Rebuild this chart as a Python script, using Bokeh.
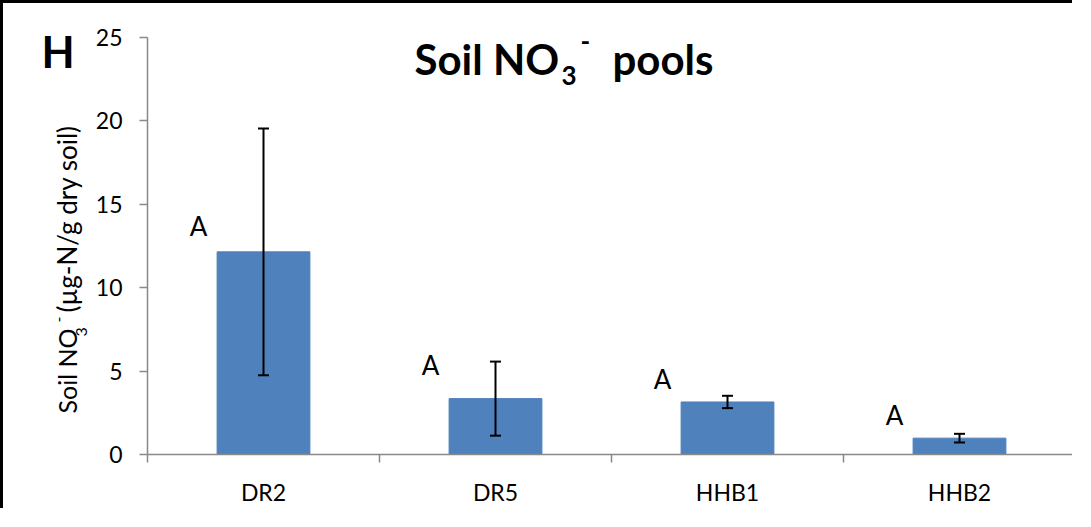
import math
from bokeh.plotting import figure
from bokeh.models import (ColumnDataSource, Range1d, LinearAxis, FixedTicker,
                          Whisker, TeeHead, Label)
from bokeh.core.properties import value
from bokeh.embed import file_html
from bokeh.resources import INLINE

# ---- data ----
categories = ["DR2", "DR5", "HHB1", "HHB2"]
means = [12.15, 3.35, 3.15, 0.98]
errors = [7.4, 2.22, 0.37, 0.26]
letters = ["A", "A", "A", "A"]
letter_y = [13.7, 5.35, 4.55, 2.35]
y_ticks = [0, 5, 10, 15, 20, 25]
Y_MAX = 25

FONT = "Lato"
BAR = "#4F81BD"
AXIS = "#898989"
LETTER_SHIFT = -0.28

# ---- layout (pixels) ----
W, H = 1072, 508
PLOT_LEFT, PLOT_TOP, PLOT_BOTTOM = 144, 34, 57   # margins around the axes box

n = len(categories)
px_per_cat = (W - PLOT_LEFT) / n
px_per_unit = (H - PLOT_TOP - PLOT_BOTTOM) / Y_MAX
x_range = Range1d(-PLOT_LEFT / px_per_cat, n)
y_range = Range1d(-PLOT_BOTTOM / px_per_unit, Y_MAX + PLOT_TOP / px_per_unit)

centers = [i + 0.5 for i in range(n)]
src = ColumnDataSource(dict(
    x=centers, mean=means,
    upper=[m + e for m, e in zip(means, errors)],
    lower=[m - e for m, e in zip(means, errors)],
    letter=letters, ly=letter_y,
    lx=[c + LETTER_SHIFT for c in centers],
))

p = figure(x_range=x_range, y_range=y_range,
           width=W, height=H, output_backend="svg", toolbar_location=None,
           x_axis_location=None, y_axis_location=None,
           min_border_left=0, min_border_right=0, min_border_top=0, min_border_bottom=0)
p.outline_line_color = None
p.xgrid.grid_line_color = None
p.ygrid.grid_line_color = None
p.background_fill_color = "white"
p.border_fill_color = "white"
p.styles = {"border-top": "3px solid black", "border-left": "3px solid black"}

# y axis
yax = LinearAxis(ticker=FixedTicker(ticks=y_ticks), fixed_location=0, bounds=(0, Y_MAX))
yax.axis_line_color = AXIS
yax.axis_line_width = 1.5
yax.major_tick_line_color = AXIS
yax.major_tick_line_width = 1.5
yax.major_tick_out = 8
yax.major_tick_in = 0
yax.minor_tick_line_color = None
yax.major_label_standoff = 17
yax.major_label_text_font = FONT
yax.major_label_text_font_size = "23px"
yax.major_label_text_color = "black"
p.add_layout(yax, "left")

# x axis: boundary ticks
xb = LinearAxis(ticker=FixedTicker(ticks=list(range(n + 1))), fixed_location=0, bounds=(0, n))
xb.axis_line_color = AXIS
xb.axis_line_width = 1.5
xb.major_tick_line_color = AXIS
xb.major_tick_line_width = 1.5
xb.major_tick_out = 8
xb.major_tick_in = 0
xb.minor_tick_line_color = None
xb.major_label_overrides = {i: "" for i in range(n + 1)}
p.add_layout(xb, "below")

# x axis: category labels
xc = LinearAxis(ticker=FixedTicker(ticks=centers), fixed_location=0,
                major_label_overrides={c: name for c, name in zip(centers, categories)})
xc.axis_line_color = None
xc.major_tick_line_color = None
xc.minor_tick_line_color = None
xc.major_tick_out = 0
xc.major_tick_in = 0
xc.major_label_standoff = 23
xc.major_label_text_font = FONT
xc.major_label_text_font_size = "23px"
xc.major_label_text_color = "black"
p.add_layout(xc, "below")

# bars
p.vbar(x="x", top="mean", bottom=0, width=0.4, source=src,
       fill_color=BAR, line_color=BAR)

# error bars
w = Whisker(base="x", upper="upper", lower="lower", source=src, level="overlay",
            line_color="black", line_width=2,
            upper_head=TeeHead(size=11, line_color="black", line_width=2),
            lower_head=TeeHead(size=11, line_color="black", line_width=2))
p.add_layout(w)

# letters
p.text(x="lx", y="ly", text="letter", source=src,
       text_font=value(FONT), text_font_size="26px", text_align="center",
       text_baseline="middle", text_color="black")

def lab(txt, x, y, size, bold=False, angle=0.0):
    p.add_layout(Label(x=x, y=y, x_units="screen", y_units="screen", text=txt,
                       text_font=FONT, text_font_size=size,
                       text_font_style="bold" if bold else "normal",
                       text_align="left", text_baseline="alphabetic",
                       text_color="black", angle=angle, level="overlay"))

# panel letter
lab("H", 38, 460, "43px", bold=True)
# title
lab("Soil NO", 411, 453, "42px", bold=True)
lab("3", 558, 436, "26px", bold=True)
lab("-", 577, 470, "26px", bold=True)
lab("pools", 609, 453, "42px", bold=True)
# y axis title (rotated)
ang = math.pi / 2
lab("Soil NO", 63, 98, "25px", angle=ang)
lab("3", 78, 175, "16px", angle=ang)
lab("-", 55, 189, "16px", angle=ang)
lab("(\u00b5g-N/g dry soil)", 63, 199, "26px", angle=ang)

open("out.html", "w").write(file_html(p, INLINE))
